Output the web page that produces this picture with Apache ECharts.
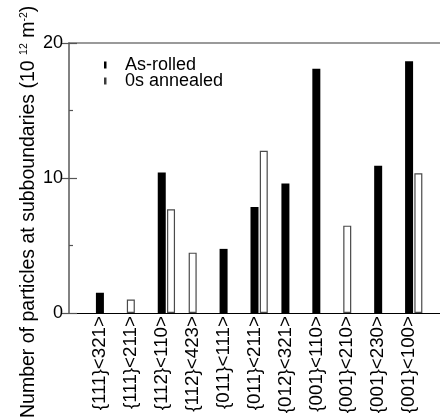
<!DOCTYPE html>
<html>
<head>
<meta charset="utf-8">
<script src="https://cdn.jsdelivr.net/npm/echarts@6/dist/echarts.min.js"></script>
<style>
  html, body { margin: 0; padding: 0; background: #fff; }
  #chart { width: 440px; height: 417px; }
</style>
</head>
<body>
<div id="chart"></div>
<script>
// Texture components along the x axis
const categories = [
  '{111}<321>', '{111}<211>', '{112}<110>', '{112}<423>', '{011}<111>',
  '{011}<211>', '{012}<321>', '{001}<110>', '{001}<210>', '{001}<230>', '{001}<100>'
];
// Particle density at subboundaries, 10^12 m^-2
const asRolled  = [1.5, 0, 10.4, 0, 4.75, 7.85, 9.6, 18.1, 0, 10.9, 18.65];
const annealed0 = [0, 1.0, 7.68, 4.47, 0, 12.02, 0, 0, 6.47, 0, 10.35];
const yTicks = [0, 10, 20];

const FONT = "'Liberation Sans', Arial, sans-serif";

// A lone bar sits on its category; when both are present the annealed bar is set just right of the as-rolled one
const pairShift = 0.3;
const rolledData = asRolled.map((v, i) => v > 0 ? [i + 1, v] : null).filter(Boolean);
const annealedData = annealed0.map((v, i) => v > 0 ? [i + 1 + (asRolled[i] > 0 ? pairShift : 0), v] : null).filter(Boolean);

const chart = echarts.init(document.getElementById('chart'), null, { renderer: 'canvas' });

const yCommon = {
  type: 'value',
  min: yTicks[0],
  max: yTicks[yTicks.length - 1],
  interval: yTicks[1] - yTicks[0],
  position: 'left',
  splitLine: { show: false },
  axisLine: { show: true, lineStyle: { color: '#7a7a7a', width: 1.5 } }
};

chart.setOption({
  animation: false,
  backgroundColor: '#fff',
  textStyle: { fontFamily: FONT },
  grid: { left: 69, top: 43, width: 379, height: 270, containLabel: false },
  legend: {
    orient: 'vertical',
    left: 103,
    top: 56,
    padding: 0,
    itemGap: -2,
    itemWidth: 17,
    itemHeight: 7,
    icon: 'path://M0,3.5L0,3.5M17,3.5L17,3.5M1,0H3.5V7H1Z',
    textStyle: { fontFamily: FONT, fontSize: 18, color: '#000', lineHeight: 16 },
    data: [
      { name: 'As-rolled', itemStyle: { color: '#000', borderWidth: 0 } },
      { name: '0s annealed', itemStyle: { color: '#3a3a3a', borderWidth: 0 } }
    ]
  },
  xAxis: [
    {
      type: 'value',
      min: 0,
      max: 12,
      interval: 1,
      position: 'bottom',
      splitLine: { show: false },
      axisTick: { show: false },
      axisLine: { show: true, onZero: false, lineStyle: { color: '#000', width: 1.2 } },
      axisLabel: {
        rotate: 90,
        margin: 3,
        fontFamily: FONT,
        fontSize: 18.8,
        color: '#000',
        padding: [5, 0, 0, 0],
        formatter: v => (Number.isInteger(v) && v >= 1 && v <= categories.length) ? categories[v - 1] : ''
      }
    },
    {
      type: 'value',
      min: 0,
      max: 12,
      position: 'top',
      splitLine: { show: false },
      axisTick: { show: false },
      axisLabel: { show: false },
      axisLine: { show: true, onZero: false, lineStyle: { color: '#7a7a7a', width: 1.5 } }
    }
  ],
  yAxis: [
    Object.assign({}, yCommon, {
      axisTick: { show: true, inside: false, length: 8, lineStyle: { color: '#555', width: 1.2 } },
      axisLabel: { margin: 6, fontFamily: FONT, fontSize: 18, color: '#000' }
    }),
    Object.assign({}, yCommon, {
      axisTick: { show: true, inside: true, length: 8, lineStyle: { color: '#555', width: 1.2 } },
      minorTick: { show: true, splitNumber: 2, length: 4, lineStyle: { color: '#555', width: 1.2 } },
      axisLabel: { show: false }
    })
  ],
  series: [
    {
      name: 'As-rolled',
      type: 'bar',
      xAxisIndex: 0,
      yAxisIndex: 0,
      barWidth: 8,
      barGap: '-100%',
      itemStyle: { color: '#000' },
      data: rolledData
    },
    {
      name: '0s annealed',
      type: 'bar',
      xAxisIndex: 0,
      yAxisIndex: 0,
      barWidth: 8,
      barGap: '-100%',
      itemStyle: { color: '#fff', borderColor: '#4a4a4a', borderWidth: 1.2 },
      data: annealedData
    }
  ],
  graphic: [
    {
      type: 'text',
      x: 29,
      y: 418,
      rotation: Math.PI / 2,
      style: {
        text: '{n|Number of particles at subboundaries (10 }{s|12}{n| m}{s|-2}{n|)}',
        textAlign: 'left',
        textVerticalAlign: 'middle',
        fill: '#000',
        rich: {
          n: { fontFamily: FONT, fontSize: 19.5, lineHeight: 21, fill: '#000' },
          s: { fontFamily: FONT, fontSize: 10.5, lineHeight: 11, verticalAlign: 'top', fill: '#000' }
        }
      }
    }
  ]
});
</script>
</body>
</html>
